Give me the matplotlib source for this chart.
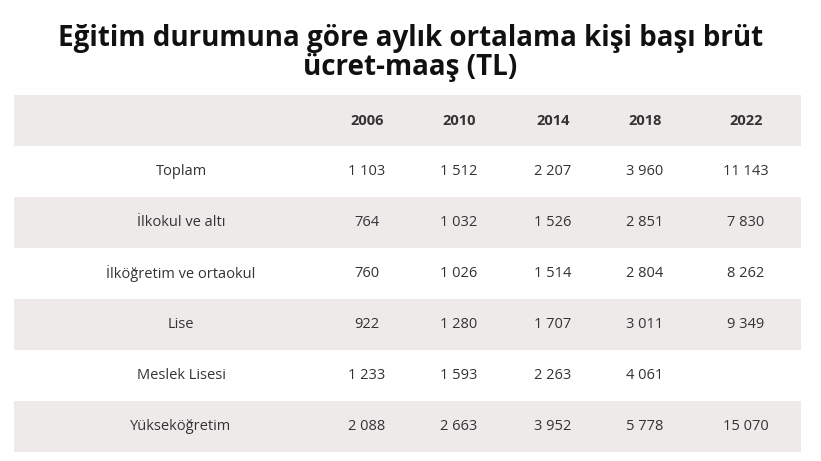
import matplotlib
matplotlib.use("Agg")
import matplotlib.pyplot as plt
from matplotlib.patches import Rectangle

title = "Eğitim durumuna göre aylık ortalama kişi başı brüt\nücret-maaş (TL)"
years = ["2006", "2010", "2014", "2018", "2022"]
categories = ["Toplam", "İlkokul ve altı", "İlköğretim ve ortaokul", "Lise", "Meslek Lisesi", "Yükseköğretim"]
v2006 = ["1 103", "764", "760", "922", "1 233", "2 088"]
v2010 = ["1 512", "1 032", "1 026", "1 280", "1 593", "2 663"]
v2014 = ["2 207", "1 526", "1 514", "1 707", "2 263", "3 952"]
v2018 = ["3 960", "2 851", "2 804", "3 011", "4 061", "5 778"]
v2022 = ["11 143", "7 830", "8 262", "9 349", "", "15 070"]
columns = [v2006, v2010, v2014, v2018, v2022]

W, H = 821, 461
fig = plt.figure(figsize=(W/100, H/100), dpi=100)
ax = fig.add_axes([0, 0, 1, 1])
ax.set_xlim(0, W); ax.set_ylim(H, 0); ax.axis("off")
shade = "#eeeaea"
x0, x1 = 14, 801
top, rh = 95, 51
label_x = 181
col_x = [367, 459, 553, 645, 746]
font = "Open Sans"

fig.text(0.5, 1 - 53/H, title, ha="center", va="center", fontsize=20,
         fontweight="bold", family=font, color="#111111", linespacing=1.0)

ax.add_patch(Rectangle((x0, top), x1 - x0, rh, color=shade, lw=0))
for j, y in enumerate(years):
    ax.text(col_x[j], top + rh/2, y, ha="center", va="center", fontsize=10.5,
            fontweight="bold", family=font, color="#333333")
for i, cat in enumerate(categories):
    yt = top + rh * (i + 1)
    if i % 2 == 1:
        ax.add_patch(Rectangle((x0, yt), x1 - x0, rh, color=shade, lw=0))
    yc = yt + rh/2
    ax.text(label_x, yc, cat, ha="center", va="center", fontsize=10.5, family=font, color="#333333")
    for j, col in enumerate(columns):
        ax.text(col_x[j], yc, col[i], ha="center", va="center", fontsize=10.5, family=font, color="#333333")

fig.savefig("out.png", dpi=100, facecolor="white")
